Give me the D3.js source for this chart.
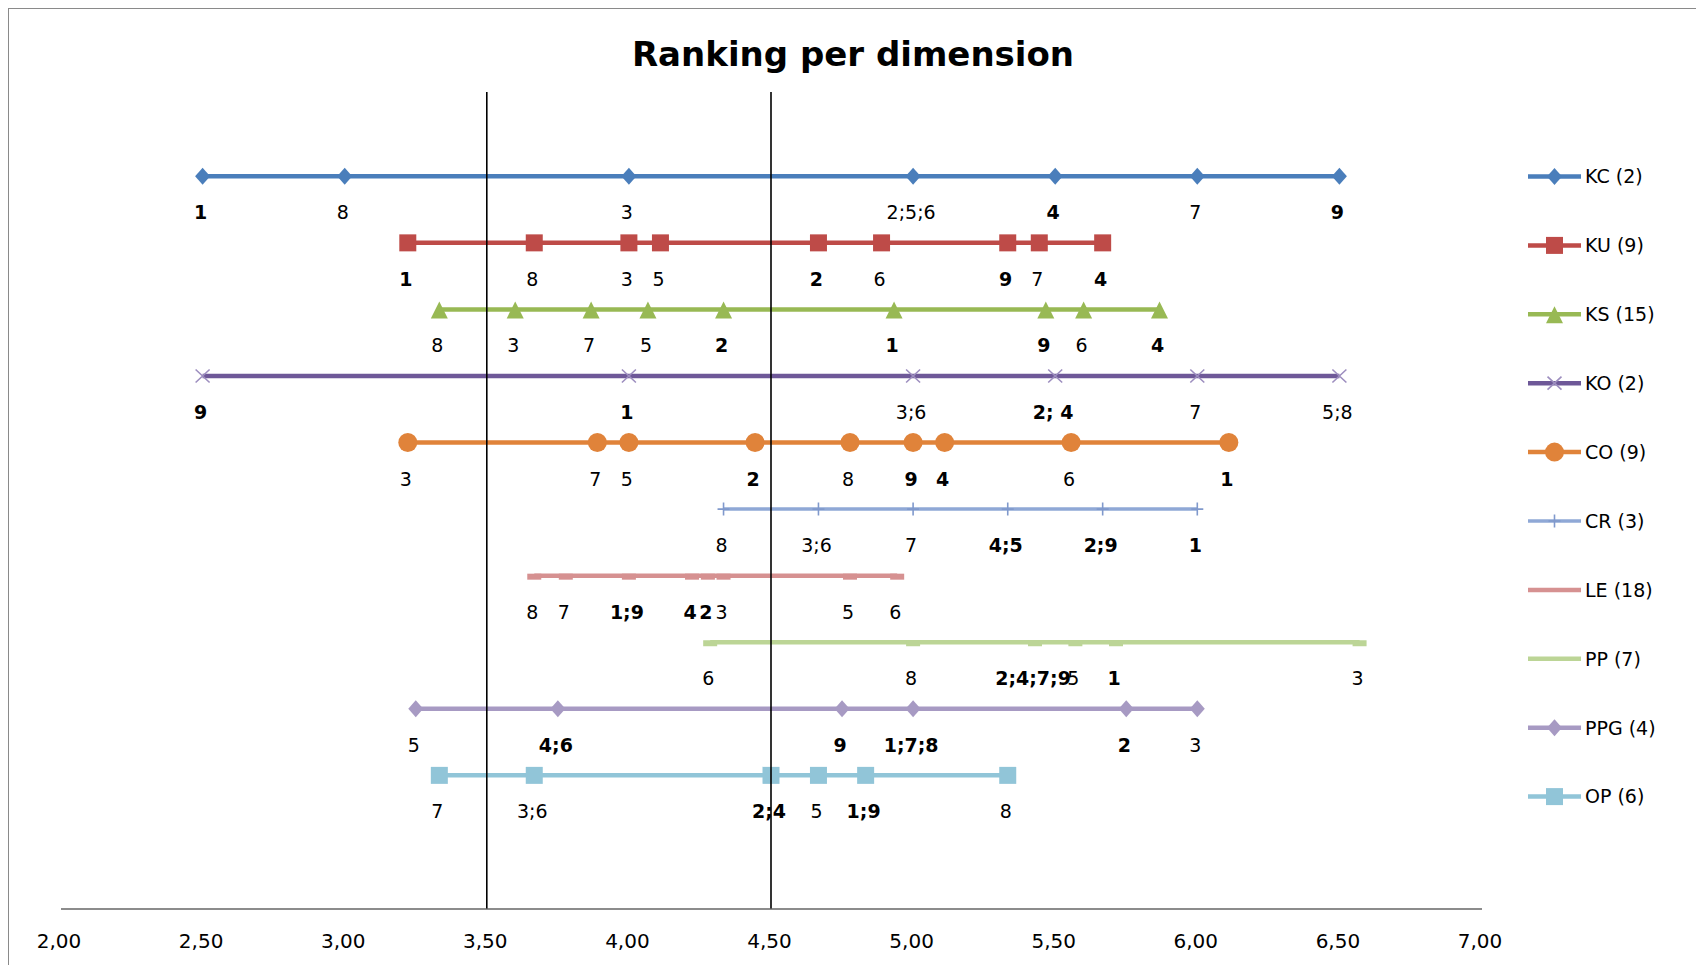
<!DOCTYPE html>
<html>
<head>
<meta charset="utf-8">
<script src="https://cdn.jsdelivr.net/npm/d3@7"></script>
<style>
  html, body { margin: 0; padding: 0; background: #ffffff; }
  svg { display: block; font-family: "DejaVu Sans", sans-serif; }
</style>
</head>
<body>
<svg id="chart" width="1696" height="965"></svg>
<script>
// Dimensions (number of respondents in brackets)
const dimensions = ["KC", "KU", "KS", "KO", "CO", "CR", "LE", "PP", "PPG", "OP"];
const respondents = [2, 9, 15, 2, 9, 3, 18, 7, 4, 6];

// Mean score per ranked unit, with the rank label(s) and whether the label is emphasised
const kcScores = [2.5, 3.0, 4.0, 5.0, 5.5, 6.0, 6.5];
const kcRanks  = ["1", "8", "3", "2;5;6", "4", "7", "9"];
const kcBold   = [1, 0, 0, 0, 1, 0, 1];

const kuScores = [3.222, 3.667, 4.0, 4.111, 4.667, 4.889, 5.333, 5.444, 5.667];
const kuRanks  = ["1", "8", "3", "5", "2", "6", "9", "7", "4"];
const kuBold   = [1, 0, 0, 0, 1, 0, 1, 0, 1];

const ksScores = [3.333, 3.6, 3.867, 4.067, 4.333, 4.933, 5.467, 5.6, 5.867];
const ksRanks  = ["8", "3", "7", "5", "2", "1", "9", "6", "4"];
const ksBold   = [0, 0, 0, 0, 1, 1, 1, 0, 1];

const koScores = [2.5, 4.0, 5.0, 5.5, 6.0, 6.5];
const koRanks  = ["9", "1", "3;6", "2; 4", "7", "5;8"];
const koBold   = [1, 1, 0, 1, 0, 0];

const coScores = [3.222, 3.889, 4.0, 4.444, 4.778, 5.0, 5.111, 5.556, 6.111];
const coRanks  = ["3", "7", "5", "2", "8", "9", "4", "6", "1"];
const coBold   = [0, 0, 0, 1, 0, 1, 1, 0, 1];

const crScores = [4.333, 4.667, 5.0, 5.333, 5.667, 6.0];
const crRanks  = ["8", "3;6", "7", "4;5", "2;9", "1"];
const crBold   = [0, 0, 0, 1, 1, 1];

const leScores = [3.667, 3.778, 4.0, 4.222, 4.278, 4.333, 4.778, 4.944];
const leRanks  = ["8", "7", "1;9", "4", "2", "3", "5", "6"];
const leBold   = [0, 0, 1, 1, 1, 0, 0, 0];

const ppScores = [4.286, 5.0, 5.429, 5.571, 5.714, 6.571];
const ppRanks  = ["6", "8", "2;4;7;9", "5", "1", "3"];
const ppBold   = [0, 0, 1, 0, 1, 0];

const ppgScores = [3.25, 3.75, 4.75, 5.0, 5.75, 6.0];
const ppgRanks  = ["5", "4;6", "9", "1;7;8", "2", "3"];
const ppgBold   = [0, 1, 1, 1, 1, 0];

const opScores = [3.333, 3.667, 4.5, 4.667, 4.833, 5.333];
const opRanks  = ["7", "3;6", "2;4", "5", "1;9", "8"];
const opBold   = [0, 0, 1, 0, 1, 0];

// Reference thresholds and axis ticks
const thresholds = [3.5, 4.5];
const axisTicks = [2, 2.5, 3, 3.5, 4, 4.5, 5, 5.5, 6, 6.5, 7];

// Styling per series
const lineColors   = ["#4a7ebb", "#be4b48", "#98b954", "#6e5898", "#e0833a",
                      "#8fa8d6", "#d69191", "#bcd596", "#a79ac3", "#91c5d8"];
const markerColors = ["#4a7ebb", "#be4b48", "#98b954", "#9d8ebf", "#e0833a",
                      "#8099cc", "#d69191", "#bcd596", "#a79ac3", "#91c5d8"];
const markerShapes = ["diamond", "square", "triangle", "cross", "circle",
                      "plus", "dash", "dash", "diamond", "square"];
const lineWidths   = [4.5, 4.5, 4.5, 4.5, 4.5, 3.5, 4.5, 4.5, 4.5, 4.5];

const seriesScores = [kcScores, kuScores, ksScores, koScores, coScores, crScores, leScores, ppScores, ppgScores, opScores];
const seriesRanks  = [kcRanks, kuRanks, ksRanks, koRanks, coRanks, crRanks, leRanks, ppRanks, ppgRanks, opRanks];
const seriesBold   = [kcBold, kuBold, ksBold, koBold, coBold, crBold, leBold, ppBold, ppgBold, opBold];

const series = dimensions.map((d, i) => ({
  name: d,
  legend: `${d} (${respondents[i]})`,
  level: dimensions.length + 1 - i,
  color: lineColors[i],
  markerColor: markerColors[i],
  shape: markerShapes[i],
  width: lineWidths[i],
  points: seriesScores[i].map((v, j) => ({ value: v, rank: seriesRanks[i][j], bold: !!seriesBold[i][j] }))
}));

const svg = d3.select("#chart");
const fmt = d3.formatLocale({ decimal: ",", thousands: ".", grouping: [3], currency: ["", ""] }).format(".2f");

const x = d3.scaleLinear().domain([2, 7]).range([60.5, 1481.5]);
const y = d3.scaleLinear().domain([0, 11]).range([908.5, 176.3]);

// Chart frame
svg.append("rect")
  .attr("x", 8.5).attr("y", 8.5)
  .attr("width", 1720).attr("height", 1000)
  .attr("fill", "#ffffff")
  .attr("stroke", "#8a8a8a").attr("stroke-width", 1);

// Title
svg.append("text")
  .attr("x", 853).attr("y", 66)
  .attr("text-anchor", "middle")
  .attr("font-size", 34).attr("font-weight", "bold")
  .attr("fill", "#000")
  .text("Ranking per dimension");

// X axis
const axisG = svg.append("g")
  .attr("transform", `translate(0,${y(0)})`)
  .call(d3.axisBottom(x).tickValues(axisTicks).tickFormat(fmt).tickSize(0).tickPadding(25));
axisG.select(".domain").attr("stroke", "#8c8c8c").attr("stroke-width", 2);
axisG.selectAll("text").attr("font-size", 20).attr("fill", "#000")
  .attr("font-family", "DejaVu Sans, sans-serif")
  .attr("dx", -2);

// Marker drawing
function drawMarker(sel, shape, color, cx, cy) {
  const g = sel.append("g").attr("transform", `translate(${cx},${cy})`);
  switch (shape) {
    case "diamond":
      g.append("path").attr("d", "M0,-8.5L7.5,0L0,8.5L-7.5,0Z").attr("fill", color); break;
    case "square":
      g.append("path").attr("d", "M-8.5,-8.5h17v17h-17Z").attr("fill", color); break;
    case "triangle":
      g.append("path").attr("d", "M0,-8L8.5,9L-8.5,9Z").attr("fill", color); break;
    case "circle":
      g.append("circle").attr("r", 9.5).attr("fill", color); break;
    case "cross":
      g.append("path").attr("d", "M-7,-6.5L7,6.5M-7,6.5L7,-6.5")
        .attr("stroke", color).attr("stroke-width", 1.6).attr("fill", "none"); break;
    case "plus":
      g.append("path").attr("d", "M0,-6.5V6.5M-6,0H6")
        .attr("stroke", color).attr("stroke-width", 1.6).attr("fill", "none"); break;
    case "dash":
      g.append("path").attr("d", "M-7,-2h14v6h-14Z").attr("fill", color); break;
  }
}

const line = d3.line().x(d => x(d.value)).y(0);

// Series
const rows = svg.append("g").selectAll("g.row")
  .data(series).join("g")
  .attr("class", "row")
  .attr("transform", d => `translate(0,${y(d.level)})`);

rows.append("path")
  .attr("d", d => line(d.points))
  .attr("fill", "none")
  .attr("stroke", d => d.color)
  .attr("stroke-width", d => d.width);

rows.each(function (s) {
  const g = d3.select(this);
  s.points.forEach(p => drawMarker(g, s.shape, s.markerColor, x(p.value), 0));
  g.selectAll("text.rank")
    .data(s.points).join("text")
    .attr("class", "rank")
    .attr("x", p => x(p.value) - 2)
    .attr("y", 43)
    .attr("text-anchor", "middle")
    .attr("font-size", 19)
    .attr("font-weight", p => p.bold ? "bold" : "normal")
    .attr("fill", "#000")
    .text(p => p.rank);
});

// Legend
const legend = svg.append("g").selectAll("g.item")
  .data(series).join("g")
  .attr("class", "item")
  .attr("transform", (d, i) => `translate(1528,${176.5 + i * 68.9})`);

legend.append("line")
  .attr("x1", 0).attr("x2", 53).attr("y1", 0).attr("y2", 0)
  .attr("stroke", d => d.color).attr("stroke-width", d => d.width);
legend.each(function (s) {
  if (s.shape !== "dash") drawMarker(d3.select(this), s.shape, s.markerColor, 26.5, 0);
});
legend.append("text")
  .attr("x", 57).attr("y", 0).attr("dy", "0.36em")
  .attr("font-size", 19).attr("fill", "#000")
  .text(d => d.legend);

// Threshold lines
svg.append("g").selectAll("line")
  .data(thresholds).join("line")
  .attr("x1", d => x(d)).attr("x2", d => x(d))
  .attr("y1", 92).attr("y2", y(0))
  .attr("stroke", "#000").attr("stroke-width", 1.6);
</script>
</body>
</html>
